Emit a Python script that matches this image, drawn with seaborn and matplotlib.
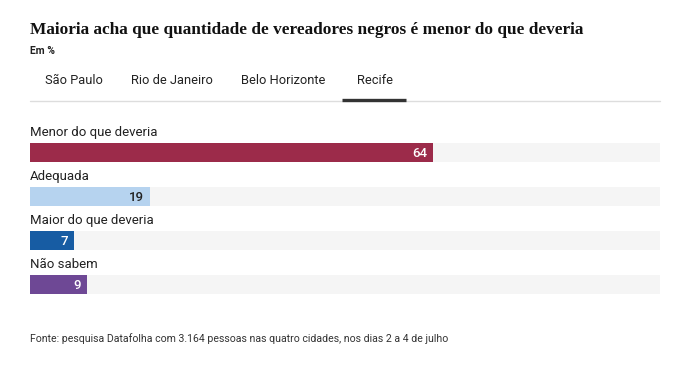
import matplotlib
matplotlib.use("Agg")
import matplotlib.pyplot as plt
import seaborn as sns
import pandas as pd

categories = ["Menor do que deveria", "Adequada", "Maior do que deveria", "Não sabem"]
values = [64, 19, 7, 9]
colors = ["#9c2b4a", "#b6d3ef", "#175ca3", "#6e4895"]
label_colors = ["white", "#222222", "white", "white"]
tabs = ["São Paulo", "Rio de Janeiro", "Belo Horizonte", "Recife"]
title = "Maioria acha que quantidade de vereadores negros é menor do que deveria"
subtitle = "Em %"
source = "Fonte: pesquisa Datafolha com 3.164 pessoas nas quatro cidades, nos dias 2 a 4 de julho"

sns.set_theme(style="white")
plt.rcParams['font.family'] = ['Roboto', 'DejaVu Sans']

W, H = 686, 373
fig = plt.figure(figsize=(W / 100, H / 100), dpi=100)
fig.patch.set_facecolor("white")

def fx(px):
    return px / W

def fy(py):
    return 1 - py / H

# bar axes: x 30..660 px, y from 108.5 (y=-1) to 306.5 (y=3.5)
ax = fig.add_axes([fx(30), fy(306.5), fx(630), (306.5 - 108.5) / H])
df = pd.DataFrame({"cat": categories, "val": values, "track": [100] * len(values)})
sns.barplot(data=df, y="cat", x="track", color="#f5f5f5", width=0.45, ax=ax,
            orient="h", saturation=1, linewidth=0)
sns.barplot(data=df, y="cat", x="val", hue="cat", palette=colors, width=0.45,
            ax=ax, orient="h", saturation=1, legend=False, linewidth=0)
ax.set_xlim(0, 100)
ax.set_ylim(3.5, -1)
ax.axis("off")
for i, (c, v) in enumerate(zip(categories, values)):
    ax.text(0, i - 0.45, c, ha="left", va="center", fontsize=9.5, color="#222222")
    ax.text(v - 0.9, i + 0.02, str(v), ha="right", va="center", fontsize=9.5,
            color=label_colors[i], fontweight="medium")

# title & subtitle
fig.text(fx(30), fy(30), title, fontsize=12.4, fontweight="bold",
         family=["Liberation Serif", "DejaVu Serif"], color="#111111", va="center")
fig.text(fx(30), fy(51), subtitle, fontsize=7.5, fontweight="bold",
         color="#222222", va="center")

# tabs
tab_x = [45, 131, 241, 357]
for t, x in zip(tabs, tab_x):
    fig.text(fx(x), fy(81), t, fontsize=9.3, color="#222222", va="center")
fig.add_artist(plt.Line2D([fx(30), fx(660)], [fy(101), fy(101)], color="#dddddd", lw=1))
fig.add_artist(plt.Line2D([fx(342), fx(406)], [fy(99.5), fy(99.5)], color="#333333", lw=2.4,
                          solid_capstyle="butt"))

# source
fig.text(fx(30), fy(339), source, fontsize=7.6, color="#333333", va="center")

fig.savefig("out.png", dpi=100, facecolor="white")
